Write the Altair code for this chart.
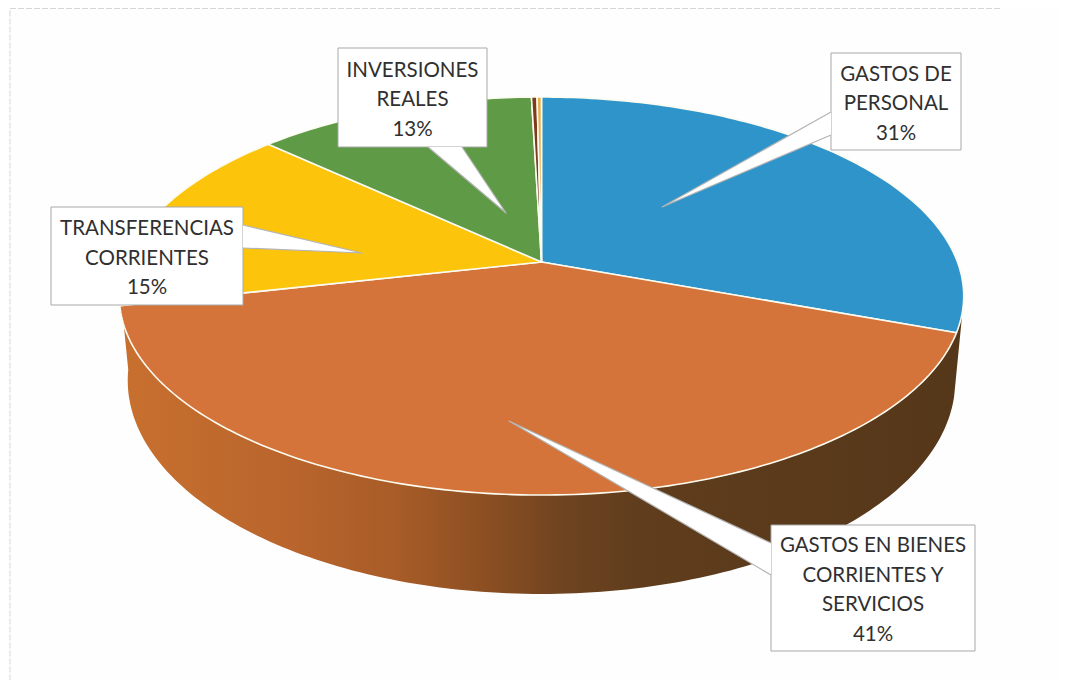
import math
import altair as alt
import pandas as pd

# --- chart values (percent of the circle, clockwise from 12 o'clock)
categories = ["GASTOS DE PERSONAL", "GASTOS EN BIENES CORRIENTES Y SERVICIOS",
              "TRANSFERENCIAS CORRIENTES", "INVERSIONES REALES", "OTROS 1", "OTROS 2"]
shares = [30.6, 40.9, 15.4, 12.65, 0.25, 0.2]
slice_colors = ["#2f94ca", "#d5743a", "#fcc40a", "#5f9a46", "#7c3b1f", "#e8b04a"]

label_lines = [
    ["GASTOS DE", "PERSONAL", "31%"],
    ["GASTOS EN BIENES", "CORRIENTES Y", "SERVICIOS", "41%"],
    ["TRANSFERENCIAS", "CORRIENTES", "15%"],
    ["INVERSIONES", "REALES", "13%"],
]
# label boxes: left, right, top, bottom
boxes = [(831, 961, 53, 150), (771, 975, 525, 651), (51, 243, 207, 305), (338, 487, 48, 147)]
# callouts: base point, tip, base point
callouts = [
    [(831, 112), (662, 207), (831, 135)],
    [(771, 543), (509, 421), (771, 575)],
    [(243, 225), (362, 253), (243, 248)],
    [(428, 147), (506, 213), (462, 147)],
]

# --- perspective of the tilted disc
CX, CY, RX, RY, TILT, DEPTH, SHRINK = 541.5, 262, 416, 193.2, 0.171, 82, 0.98


def rim(theta_deg, bottom=False):
    t = math.radians(theta_deg)
    u, v = math.sin(t), math.cos(t)
    w = 1 + TILT * v
    if bottom:
        return CX + SHRINK * RX * u / w, CY - RY * v / w + DEPTH / w
    return CX + RX * u / w, CY - RY * v / w


def arc_degrees(a, b):
    n = max(2, int(abs(b - a)) + 1)
    return [a + (b - a) * i / (n - 1) for i in range(n)]


X_SCALE = alt.Scale(domain=[8, 1058], nice=False, zero=False)
Y_SCALE = alt.Scale(domain=[680, 8], nice=False, zero=False)


def outline(points, **mark):
    df = pd.DataFrame({"x": [p[0] for p in points], "y": [p[1] for p in points],
                       "i": list(range(len(points)))})
    return alt.Chart(df).mark_line(interpolate="linear", strokeJoin="round", **mark).encode(
        x=alt.X("x:Q", scale=X_SCALE, axis=None),
        y=alt.Y("y:Q", scale=Y_SCALE, axis=None),
        order="i:Q",
    )


layers = []

# faint frame of the scanned page
layers.append(outline([(1000, 8.5), (10, 8.5), (10, 680)], stroke="#d6d6d6", strokeWidth=1,
                      strokeDash=[6, 2]))

# side wall
side_a, side_b = 104, 263
side = [rim(a) for a in arc_degrees(side_a, side_b)] + \
       [rim(a, True) for a in arc_degrees(side_b, side_a)]
side.append(side[0])
gradient = alt.LinearGradient(
    gradient="linear", x1=0, x2=1, y1=0, y2=0,
    stops=[
        alt.GradientStop(offset=0.0, color="#c8702f"),
        alt.GradientStop(offset=0.21, color="#b8642c"),
        alt.GradientStop(offset=0.33, color="#a85c27"),
        alt.GradientStop(offset=0.44, color="#8a4e22"),
        alt.GradientStop(offset=0.53, color="#6e4320"),
        alt.GradientStop(offset=0.62, color="#5f3d1d"),
        alt.GradientStop(offset=1.0, color="#553719"),
    ],
)
layers.append(outline(side, fill=gradient, strokeWidth=0, stroke="#553719", strokeOpacity=0))

# top slices
start = 0.0
for share, color in zip(shares, slice_colors):
    end = start + share * 3.6
    pts = [(CX, CY)] + [rim(a) for a in arc_degrees(start, end)] + [(CX, CY)]
    layers.append(outline(pts, fill=color, stroke="#fbfbf0", strokeWidth=1.6))
    start = end

# label boxes, callouts
box_df = pd.DataFrame(boxes, columns=["x", "x2", "y", "y2"])
layers.append(alt.Chart(box_df).mark_rect(fill="white", stroke="#a8a8a8", strokeWidth=1).encode(
    x=alt.X("x:Q", scale=X_SCALE, axis=None), x2="x2:Q",
    y=alt.Y("y:Q", scale=Y_SCALE, axis=None), y2="y2:Q",
))
for tri in callouts:
    layers.append(outline(tri + [tri[0]], fill="white", strokeWidth=0, stroke="white", strokeOpacity=0))
    layers.append(outline(tri, stroke="#b4b4b4", strokeWidth=1.2))

# label text
rows = []
LINE = 29.5
for (l, r, t, b), lines in zip(boxes, label_lines):
    mid = (t + b) / 2 + 2.5
    for i, line in enumerate(lines):
        rows.append({"x": (l + r) / 2, "y": mid + (i - (len(lines) - 1) / 2) * LINE, "t": line})
layers.append(alt.Chart(pd.DataFrame(rows)).mark_text(
    font="Lato", fontSize=20.5, color="#303030", align="center", baseline="middle"
).encode(
    x=alt.X("x:Q", scale=X_SCALE, axis=None),
    y=alt.Y("y:Q", scale=Y_SCALE, axis=None),
    text="t:N",
))

chart = alt.layer(*layers).properties(
    width=1050, height=672, padding=0,
    autosize=alt.AutoSizeParams(type="none"), background="#fefefe",
).configure_view(strokeWidth=0)

chart.save("out.html", embed_options={"renderer": "svg", "actions": False})
